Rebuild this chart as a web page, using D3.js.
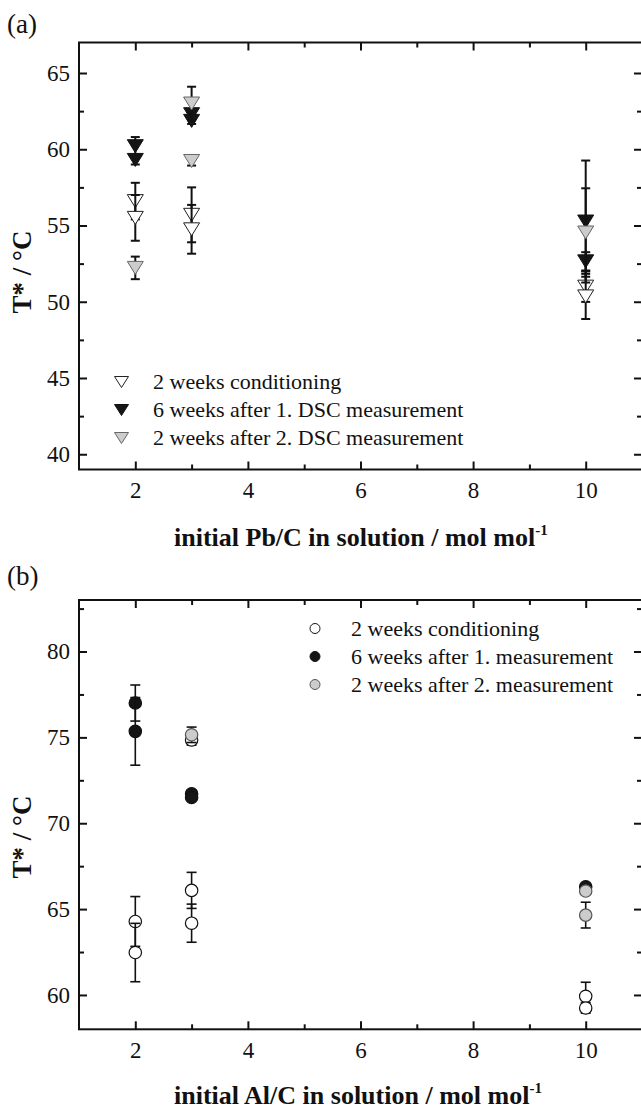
<!DOCTYPE html>
<html lang="en">
<head>
<meta charset="UTF-8">
<title>T* vs initial ratio</title>
<script src="https://cdnjs.cloudflare.com/ajax/libs/d3/7.8.5/d3.min.js"></script>
<style>
    body { margin: 0; background: #fff; }
    svg { display: block; }
    text { font-family: "Liberation Serif", "Times New Roman", serif; fill: #111; }
</style>
</head>
<body>
<script>

// ---- panel (a): Pb/C, triangles ----
const pbX_cond  = [2, 2, 3, 3, 10, 10]
const pbT_cond  = [56.6, 55.5, 55.7, 54.75, 50.99, 50.35]
const pbE_cond  = [1.2, 1.5, 1.8, 1.6, 1.0, 1.48]

const pbX_dsc1  = [2, 2, 3, 3, 10, 10]
const pbT_dsc1  = [60.2, 59.3, 62.3, 61.86, 55.26, 52.65]
const pbE_dsc1  = [0.6, 0.3, 0.2, 0.2, 4.0, 0.6]

const pbX_dsc2  = [2, 3, 3, 10]
const pbT_dsc2  = [52.22, 63.0, 59.23, 54.54]
const pbE_dsc2  = [0.74, 1.1, 0.3, 2.9]

const pbLegend = ["2 weeks conditioning", "6 weeks after 1. DSC measurement", "2 weeks after 2. DSC measurement"]

// ---- panel (b): Al/C, circles ----
const alX_cond  = [2, 2, 3, 3, 3, 10, 10]
const alT_cond  = [64.28, 62.47, 66.09, 64.18, 74.85, 59.92, 59.24]
const alE_cond  = [1.45, 1.7, 1.05, 1.11, 0.3, 0.82, 0.3]

const alX_m1    = [2, 2, 3, 3, 10]
const alT_m1    = [77.0, 75.35, 71.72, 71.5, 66.3]
const alE_m1    = [1.05, 1.97, 0.1, 0.1, 0.1]

const alX_m2    = [3, 10, 10]
const alT_m2    = [75.15, 66.05, 64.65]
const alE_m2    = [0.45, 0.1, 0.75]

const alLegend = ["2 weeks conditioning", "6 weeks after 1. measurement", "2 weeks after 2. measurement"]

// axes
const xDomain = [1, 11]
const xMajor = [2, 4, 6, 8, 10]
const xMinor = [3, 5, 7, 9]
const pbDomain = [39, 67]
const pbMajor = [40, 45, 50, 55, 60, 65]
const pbMinor = [42.5, 47.5, 52.5, 57.5, 62.5]
const alDomain = [58, 83]
const alMajor = [60, 65, 70, 75, 80]
const alMinor = [62.5, 67.5, 72.5, 77.5, 82.5]

const W = 641, H = 1109
const left = 79, right = 642

const fills = ["#ffffff", "#151515", "#cccccc"]
const strokes = ["#222", "#111", "#666"]

let svg = d3.select("body").append("svg")
    .attr("width", W)
    .attr("height", H)

svg.append("rect").attr("width", W).attr("height", H).attr("fill", "#fff")

let x = d3.scaleLinear().domain(xDomain).range([left, right])

function triangle(w, h) {
    return `M${-w/2},${-h/2}L${w/2},${-h/2}L0,${h/2}Z`
}

function frame(g, y, top, bottom, yMajor, yMinor) {
    // inward ticks on all four sides
    let bot = g.append("g").attr("transform", `translate(0,${bottom})`)
    bot.call(d3.axisBottom(x).tickValues(xMajor).tickSize(-8).tickPadding(12).tickFormat(d3.format("d")))
    bot.append("g").call(d3.axisBottom(x).tickValues(xMinor).tickSize(-5).tickFormat(""))
    let tp = g.append("g").attr("transform", `translate(0,${top})`)
    tp.call(d3.axisTop(x).tickValues(xMajor).tickSize(-8).tickFormat(""))
    tp.append("g").call(d3.axisTop(x).tickValues(xMinor).tickSize(-5).tickFormat(""))
    let lf = g.append("g").attr("transform", `translate(${left},0)`)
    lf.call(d3.axisLeft(y).tickValues(yMajor).tickSize(-8).tickPadding(9).tickFormat(d3.format("d")))
    lf.append("g").call(d3.axisLeft(y).tickValues(yMinor).tickSize(-5).tickFormat(""))
    let rt = g.append("g").attr("transform", `translate(${right},0)`)
    rt.call(d3.axisRight(y).tickValues(yMajor).tickSize(-8).tickFormat(""))
    rt.append("g").call(d3.axisRight(y).tickValues(yMinor).tickSize(-5).tickFormat(""))

    g.selectAll(".domain").remove()
    g.selectAll(".tick line").attr("stroke", "#111").attr("stroke-width", 2)
    g.selectAll(".tick text")
        .style("font-family", "'Liberation Serif', serif")
        .style("font-size", "23px")
        .attr("fill", "#111")

    g.append("rect")
        .attr("x", left).attr("y", top)
        .attr("width", right - left).attr("height", bottom - top)
        .attr("fill", "none").attr("stroke", "#111").attr("stroke-width", 2)
}

function errorBars(g, y, xs, ys, es, cap, sw) {
    xs.forEach((xv, i) => {
        let cx = x(xv), y1 = y(ys[i] + es[i]), y2 = y(ys[i] - es[i])
        g.append("line").attr("x1", cx).attr("x2", cx).attr("y1", y1).attr("y2", y2)
            .attr("stroke", "#111").attr("stroke-width", sw)
        ;[y1, y2].forEach(yy => {
            g.append("line").attr("x1", cx - cap / 2).attr("x2", cx + cap / 2)
                .attr("y1", yy).attr("y2", yy)
                .attr("stroke", "#111").attr("stroke-width", sw)
        })
    })
}

function xTitle(g, label, yPos) {
    let t = g.append("text")
        .attr("x", 174).attr("y", yPos)
        .style("font-size", "26px").style("font-weight", "bold")
    t.append("tspan").text(label)
    t.append("tspan").attr("dy", -11).style("font-size", "15px").text("-1")
}

function yTitle(g, cy) {
    g.append("text")
        .attr("transform", `translate(31,${cy}) rotate(-90)`)
        .attr("text-anchor", "middle")
        .style("font-size", "27px").style("font-weight", "bold")
        .text("T* / °C")
}

// ---------------- panel (a) ----------------
{
    let top = 42.5, bottom = 469.5
    let y = d3.scaleLinear().domain(pbDomain).range([bottom, top])
    let g = svg.append("g")
    frame(g, y, top, bottom, pbMajor, pbMinor)

    let series = [
        [pbX_cond, pbT_cond, pbE_cond],
        [pbX_dsc1, pbT_dsc1, pbE_dsc1],
        [pbX_dsc2, pbT_dsc2, pbE_dsc2]
    ]
    series.forEach((s, k) => {
        let [xs, ys, es] = s
        xs.forEach((xv, i) => {
            errorBars(g, y, [xv], [ys[i]], [es[i]], 9, 2)
            g.append("path")
                .attr("d", triangle(16, 13))
                .attr("transform", `translate(${x(xv)},${y(ys[i])})`)
                .attr("fill", fills[k])
                .attr("stroke", strokes[k])
                .attr("stroke-width", 1)
        })
    })

    // legend
    pbLegend.forEach((lab, k) => {
        let ly = 382 + k * 28
        g.append("path")
            .attr("d", triangle(14, 11))
            .attr("transform", `translate(121.5,${ly})`)
            .attr("fill", fills[k]).attr("stroke", strokes[k]).attr("stroke-width", 1)
        g.append("text").attr("x", 153).attr("y", ly + 7)
            .style("font-size", "22px").text(lab)
    })

    xTitle(g, "initial Pb/C in solution / mol mol", 546)
    yTitle(g, 272)
    g.append("text").attr("x", 7).attr("y", 33).style("font-size", "27px").text("(a)")
}

// ---------------- panel (b) ----------------
{
    let top = 600, bottom = 1029.3
    let y = d3.scaleLinear().domain(alDomain).range([bottom, top])
    let g = svg.append("g")
    frame(g, y, top, bottom, alMajor, alMinor)

    let series = [
        [alX_cond, alT_cond, alE_cond],
        [alX_m1, alT_m1, alE_m1],
        [alX_m2, alT_m2, alE_m2]
    ]
    series.forEach((s, k) => {
        let [xs, ys, es] = s
        xs.forEach((xv, i) => {
            errorBars(g, y, [xv], [ys[i]], [es[i]], 10, 1.6)
            g.append("circle")
                .attr("cx", x(xv)).attr("cy", y(ys[i]))
                .attr("r", 6.2)
                .attr("fill", fills[k])
                .attr("stroke", k === 2 ? "#555" : "#111")
                .attr("stroke-width", 1.2)
        })
    })

    alLegend.forEach((lab, k) => {
        let ly = 628.5 + k * 28
        g.append("circle").attr("cx", 315).attr("cy", ly).attr("r", 5)
            .attr("fill", fills[k]).attr("stroke", k === 2 ? "#555" : "#111").attr("stroke-width", 1)
        g.append("text").attr("x", 351).attr("y", ly + 7)
            .style("font-size", "22px").text(lab)
    })

    xTitle(g, "initial Al/C in solution / mol mol", 1104)
    yTitle(g, 837)
    g.append("text").attr("x", 7).attr("y", 585).style("font-size", "27px").text("(b)")
}

</script>
</body>
</html>
